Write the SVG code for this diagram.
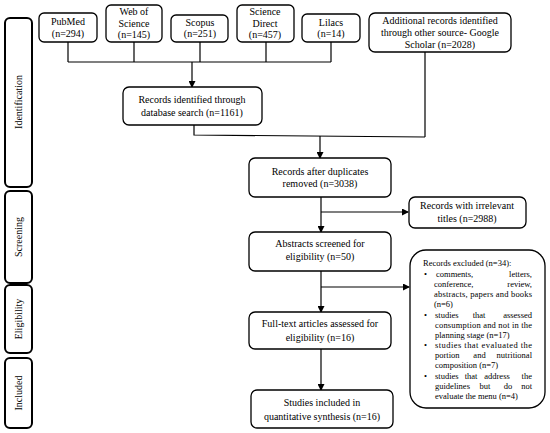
<svg xmlns="http://www.w3.org/2000/svg" width="550" height="433" viewBox="0 0 550 433" font-family="'Liberation Serif', 'DejaVu Serif', serif">
<defs>
<style>
.box{fill:#fff;stroke:#000;stroke-width:1.3}
.side{fill:#fff;stroke:#000;stroke-width:2}
text{font-family:'Liberation Serif','DejaVu Serif',serif;fill:#000}
.t{font-size:10px;text-anchor:middle}
.s{font-size:8.5px}
.e{text-anchor:end}
.m{text-anchor:middle}
.ln{fill:none;stroke:#000;stroke-width:1.2}
</style>
<marker id="ah" markerWidth="7" markerHeight="7" refX="6" refY="3.5" orient="auto" markerUnits="userSpaceOnUse">
<path d="M0,0 L7,3.5 L0,7 Z" fill="#000"/>
</marker>
</defs>
<rect width="550" height="433" fill="#fff"/>

<g id="stage-identification">
<rect class="side" x="5" y="18" width="27" height="169" rx="5"/>
<text class="t" transform="translate(22,102) rotate(-90)">Identification</text>
</g>
<g id="stage-screening">
<rect class="side" x="5" y="191" width="27" height="92" rx="5"/>
<text class="t" transform="translate(22,237) rotate(-90)">Screening</text>
</g>
<g id="stage-eligibility">
<rect class="side" x="5" y="285" width="27" height="68" rx="5"/>
<text class="t" transform="translate(22,319) rotate(-90)">Eligibility</text>
</g>
<g id="stage-included">
<rect class="side" x="5" y="358" width="27" height="70" rx="5"/>
<text class="t" transform="translate(22,393) rotate(-90)">Included</text>
</g>

<g id="connectors">
<path class="ln" d="M68,42 V62 M134,42 V62 M200,42 V62 M266,42 V62 M331,42 V62 M68,62 H331"/>
<path class="ln" d="M192,62 V87" marker-end="url(#ah)"/>
<path class="ln" d="M194,125 V135 L425,137 M425,52 V137"/>
<path class="ln" d="M320,136 V158" marker-end="url(#ah)"/>
<path class="ln" d="M321,197 V232" marker-end="url(#ah)"/>
<path class="ln" d="M321,212 H408" marker-end="url(#ah)"/>
<path class="ln" d="M321,271 V312" marker-end="url(#ah)"/>
<path class="ln" d="M321,287 H409" marker-end="url(#ah)"/>
<path class="ln" d="M321,349 V390" marker-end="url(#ah)"/>
</g>

<g id="pubmed">
<rect class="box" x="39" y="13" width="58" height="29" rx="5"/>
<text class="t" x="68" y="25">PubMed</text>
<text class="t" x="68" y="37">(n=294)</text>
</g>
<g id="wos">
<rect class="box" x="106" y="5" width="56" height="37" rx="5"/>
<text class="t" x="134" y="15">Web of</text>
<text class="t" x="134" y="27">Science</text>
<text class="t" x="134" y="38">(n=145)</text>
</g>
<g id="scopus">
<rect class="box" x="171" y="15" width="57" height="27" rx="5"/>
<text class="t" x="200" y="26">Scopus</text>
<text class="t" x="200" y="37">(n=251)</text>
</g>
<g id="sciencedirect">
<rect class="box" x="237" y="5" width="57" height="37" rx="5"/>
<text class="t" x="265" y="15">Science</text>
<text class="t" x="265" y="27">Direct</text>
<text class="t" x="265" y="38">(n=457)</text>
</g>
<g id="lilacs">
<rect class="box" x="302" y="14" width="58" height="28" rx="5"/>
<text class="t" x="331" y="26">Lilacs</text>
<text class="t" x="331" y="37">(n=14)</text>
</g>
<g id="additional">
<rect class="box" x="369" y="13" width="142" height="39" rx="6"/>
<text class="t" x="440" y="24">Additional records identified</text>
<text class="t" x="440" y="36">through  other source- Google</text>
<text class="t" x="440" y="48">Scholar (n=2028)</text>
</g>
<g id="identified">
<rect class="box" x="123" y="87" width="139" height="38" rx="6"/>
<text class="t" x="192" y="103">Records identified through</text>
<text class="t" x="192" y="116">database search (n=1161)</text>
</g>
<g id="duplicates">
<rect class="box" x="249" y="158" width="142" height="39" rx="6"/>
<text class="t" x="320" y="175">Records after duplicates</text>
<text class="t" x="320" y="187">removed (n=3038)</text>
</g>
<g id="irrelevant">
<rect class="box" x="409" y="197" width="117" height="31" rx="6"/>
<text class="t" x="467" y="209">Records with irrelevant</text>
<text class="t" x="467" y="222">titles (n=2988)</text>
</g>
<g id="abstracts">
<rect class="box" x="249" y="232" width="142" height="39" rx="6"/>
<text class="t" x="320" y="247">Abstracts screened for</text>
<text class="t" x="320" y="260">eligibility (n=50)</text>
</g>
<g id="excluded">
<rect class="box" x="410" y="250" width="135" height="158" rx="16"/>
<text class="s" x="423" y="266">Records excluded (n=34):</text>
<text class="s" x="424" y="277">•</text>
<text class="s" x="436" y="277">comments,</text>
<text class="s e" x="532" y="277">letters,</text>
<text class="s" x="434" y="287">conference,</text>
<text class="s e" x="532" y="287">review,</text>
<text class="s" x="434" y="297" textLength="98" lengthAdjust="spacing">abstracts, papers and books</text>
<text class="s" x="434" y="307">(n=6)</text>
<text class="s" x="424" y="318">•</text>
<text class="s" x="435" y="318">studies</text>
<text class="s m" x="479" y="318">that</text>
<text class="s e" x="532" y="318">assessed</text>
<text class="s" x="435" y="328" textLength="97" lengthAdjust="spacing">consumption and not in the</text>
<text class="s" x="435" y="338">planning stage (n=17)</text>
<text class="s" x="424" y="348">•</text>
<text class="s" x="435" y="348" textLength="97" lengthAdjust="spacing">studies that evaluated the</text>
<text class="s" x="435" y="358">portion</text>
<text class="s m" x="479.5" y="358">and</text>
<text class="s e" x="532" y="358">nutritional</text>
<text class="s" x="435" y="368">composition (n=7)</text>
<text class="s" x="424" y="379">•</text>
<text class="s" x="435" y="379">studies</text>
<text class="s m" x="471" y="379">that</text>
<text class="s m" x="497" y="379">address</text>
<text class="s e" x="532" y="379">the</text>
<text class="s" x="435" y="389">guidelines</text>
<text class="s m" x="485" y="389">but</text>
<text class="s m" x="508" y="389">do</text>
<text class="s e" x="532" y="389">not</text>
<text class="s" x="435" y="399">evaluate the menu (n=4)</text>
</g>
<g id="fulltext">
<rect class="box" x="249" y="312" width="142" height="37" rx="6"/>
<text class="t" x="320" y="327">Full-text articles assessed for</text>
<text class="t" x="320" y="341">eligibility (n=16)</text>
</g>
<g id="included">
<rect class="box" x="251" y="390" width="142" height="38" rx="6"/>
<text class="t" x="322" y="406">Studies included in</text>
<text class="t" x="322" y="420">quantitative  synthesis (n=16)</text>
</g>
</svg>
